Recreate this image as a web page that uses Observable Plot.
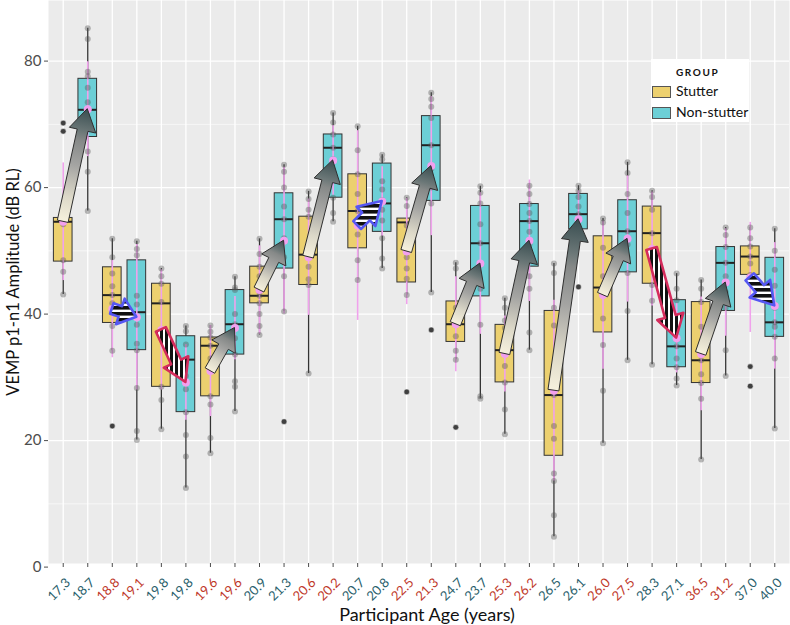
<!DOCTYPE html>
<html><head><meta charset="utf-8">
<script src="https://cdn.jsdelivr.net/npm/d3@7"></script>
<script src="https://cdn.jsdelivr.net/npm/@observablehq/plot@0.6"></script>
<style>
body{margin:0;background:#fff;font-family:Lato,"Open Sans",sans-serif;}
#wrap{position:relative;width:790px;height:625px;}
#legend{position:absolute;left:651px;top:59px;width:98px;height:63px;background:#fff;font-family:Lato,sans-serif;color:#111;}
#legend .t{position:absolute;left:25px;top:7px;font-size:10px;font-weight:700;letter-spacing:1.6px;}
#legend .sw{position:absolute;left:1px;width:17px;height:10px;border:1px solid #555;}
#legend .lb{position:absolute;left:25px;font-size:14px;line-height:14px;}
</style></head>
<body><div id="wrap"><div id="legend"></div></div>
<script>
const ages = ["17.3","18.7","18.8","19.1","19.8","19.8","19.6","19.6","20.9","21.3","20.6","20.2","20.7","20.8","22.5","21.3","24.7","23.7","25.3","26.2","26.5","26.1","26.0","27.5","28.3","27.1","36.5","31.2","37.0","40.0"];
const groupNames = ["Stutter","Non-stutter"];
const groupColors = ["#ecd06f","#6ccfd6"];
const labelColors = ["#2b5f6c","#c0392b"];
const q1 = [48.3,68.0, 38.6,34.3, 28.5,24.5, 27.0,33.6, 41.7,47.2, 44.6,58.4, 50.4,53.0, 45.0,57.9, 35.6,42.8, 29.2,47.5, 17.6,53.4, 37.1,46.6, 44.8,31.6, 29.1,40.5, 46.2,36.4];
const median = [54.6,72.3, 43.0,40.3, 41.7,32.8, 35.0,38.4, 42.9,55.0, 49.4,66.3, 56.3,57.5, 54.5,66.7, 38.4,51.2, 34.3,54.7, 27.2,55.8, 44.2,53.1, 52.8,34.9, 32.7,48.1, 49.1,38.7];
const q3 = [55.2,77.2, 47.4,48.5, 44.8,36.5, 36.3,43.8, 47.5,59.1, 55.4,68.4, 62.1,63.8, 55.1,71.3, 42.0,57.1, 38.3,57.4, 40.5,59.0, 52.3,58.0, 57.0,42.2, 41.9,50.6, 50.7,48.9];
const whiskerLow = [43.1,56.3, 34.2,20.1, 21.8,12.5, 18.0,24.6, 36.7,40.4, 30.6,54.6, 45.4,47.2, 43.0,43.4, 32.8,26.6, 21.0,34.3, 4.8,53.4, 19.6,32.7, 32.0,28.7, 17.0,30.2, 46.2,21.9];
const whiskerHigh = [55.2,85.2, 51.9,51.5, 47.2,38.1, 38.2,45.9, 51.9,63.6, 59.4,71.8, 69.7,65.2, 58.4,75.0, 48.1,60.2, 42.5,60.3, 48.0,60.3, 55.1,64.0, 59.5,46.4, 45.4,53.7, 53.7,53.5];
const means = [54.6,72.4, 40.8,39.5, 37.5,29.2, 31.0,37.8, 43.8,51.6, 49.0,64.3, 54.0,57.8, 49.9,63.4, 38.4,48.0, 33.7,51.6, 27.9,55.0, 43.0,51.9, 50.3,36.2, 33.7,45.0, 45.8,41.3];
const sds = [9.3,7.5, 7.7,11.5, 9.5,6.0, 7.2,5.0, 7.0,11.6, 9.2,5.5, 15.0,5.5, 8.4,11.0, 7.5,11.2, 6.0,9.6, 14.3,4.5, 11.7,10.0, 9.0,5.5, 9.0,8.5, 8.7,10.0];
const outliers = [[70.2,68.9],[],[22.3],[],[],[],[],[],[],[23.0],[],[],[],[],[27.7],[37.5],[22.1],[],[],[],[],[44.3],[],[],[],[],[],[],[31.7,28.6],[]];
const points = [
 [70.2,68.9,55.2,54.6,54.2,48.5,46.7,43.1],
 [85.2,83.5,78.3,77.6,75.8,73.5,72.4,65.7,62.5,56.3],
 [51.9,49.0,46.4,44.4,43.0,41.7,38.1,34.2,22.3],
 [51.5,50.3,49.3,42.9,41.5,38.3,35.3,34.3,28.3,21.5,20.1],
 [47.2,46.0,44.8,41.9,36.5,28.5,26.4,21.8],
 [38.1,37.3,35.2,32.8,30.2,28.1,24.5,20.9,17.5,12.5],
 [38.2,37.2,36.3,35.0,33.0,27.0,25.7,20.4,18.0],
 [45.9,44.2,43.8,40.0,38.4,36.2,33.6,29.4,28.5,24.6],
 [51.9,49.5,47.5,46.0,43.5,42.9,41.7,40.0,38.1,36.7],
 [63.6,62.5,60.0,57.0,55.0,52.0,49.0,46.0,40.4,23.0],
 [59.4,58.2,56.5,55.4,50.0,47.5,45.5,44.6,30.6],
 [71.8,70.3,68.4,66.3,64.5,62.0,58.4,56.0,54.6],
 [69.7,65.9,62.1,59.0,56.3,52.6,48.5,45.4],
 [65.2,64.5,61.0,59.7,58.0,56.5,54.8,52.0,48.8,47.2],
 [58.4,57.1,54.0,49.0,47.2,45.6,43.0,27.7],
 [75.0,74.0,72.8,71.0,66.7,63.0,60.0,57.5,43.4,37.5],
 [48.1,47.2,41.0,39.0,38.4,36.5,34.2,32.8,22.1],
 [60.2,59.2,57.5,54.2,51.2,48.0,44.0,38.3,27.0,26.6],
 [42.5,41.0,39.0,37.8,35.5,34.3,31.8,29.2,24.9,21.0],
 [60.3,59.0,57.4,56.0,54.7,53.0,51.0,46.0,44.0,37.1,34.3],
 [48.0,46.5,41.0,38.2,27.2,22.3,20.3,14.8,13.6,8.2,4.8],
 [60.3,59.5,58.5,57.0,55.8,55.0,54.0,53.4,44.3],
 [55.1,54.5,50.5,46.0,44.2,43.0,39.3,35.1,27.9,19.6],
 [64.0,62.3,59.0,56.0,53.1,51.0,49.0,46.5,40.5,32.7],
 [59.5,58.5,56.5,52.8,50.0,48.0,44.6,42.1,32.0],
 [46.4,44.0,42.2,39.5,36.0,34.9,33.0,31.6,29.8,28.7],
 [45.4,44.0,41.9,38.0,33.7,32.7,30.5,29.1,26.6,17.0],
 [53.7,52.5,50.6,48.1,46.0,43.5,41.0,34.3,30.2],
 [53.7,52.0,50.7,49.1,48.0,46.2,31.7,28.6],
 [53.5,50.0,47.0,44.5,41.0,38.7,38.0,36.4,33.0,21.9]
];
// arrow style per participant pair: "up" (grey), "down" (red hatched), "ns" (blue hatched)
const arrowKinds = ["up","ns","down","up","up","up","ns","up","up","up","up","up","down","up","ns"];
const yTicks = [0,20,40,60,80];
const yMinor = [10,30,50,70];

const boxes = ages.map((a, i) => ({
  i, age: a, group: groupNames[i % 2], fill: groupColors[i % 2],
  q1: q1[i], med: median[i], q3: q3[i], lo: whiskerLow[i], hi: whiskerHigh[i],
  mean: means[i], sd: sds[i], labelColor: labelColors[Math.floor(i / 2) % 2]
}));
const ptsFlat = points.flatMap((arr, i) => arr.map(v => ({i, v})));
const outFlat = outliers.flatMap((arr, i) => arr.map(v => ({i, v})));
const arrows = arrowKinds.map((k, p) => ({from: 2*p, to: 2*p+1, m0: means[2*p], m1: means[2*p+1], kind: k}));
const halfW = 0.38;

function arrowMark(index, scales) {
  const ns = "http://www.w3.org/2000/svg";
  const g = document.createElementNS(ns, "g");
  const defs = document.createElementNS(ns, "defs");
  defs.innerHTML =
    '<pattern id="hatchV" patternUnits="userSpaceOnUse" width="5" height="5"><rect width="5" height="5" fill="#fff"/><rect width="3" height="5" fill="#111"/></pattern>' +
    '<pattern id="hatchH" patternUnits="userSpaceOnUse" width="6" height="6"><rect width="6" height="6" fill="#fff"/><rect width="6" height="3.6" fill="#111"/></pattern>';
  g.appendChild(defs);
  arrows.forEach((a, k) => {
    const x0 = scales.x(a.from), y0 = scales.y(a.m0), x1 = scales.x(a.to), y1 = scales.y(a.m1);
    const L = Math.hypot(x1 - x0, y1 - y0);
    const ux = (x1 - x0) / L, uy = (y1 - y0) / L, nx = -uy, ny = ux;
    const hl = Math.min(22, L * 0.65), w = 5.5, h = 13.5;
    const bx = x0 + ux * (L - hl), by = y0 + uy * (L - hl);
    const pts = [
      [x0 + nx*w, y0 + ny*w], [bx + nx*w, by + ny*w], [bx + nx*h, by + ny*h], [x1, y1],
      [bx - nx*h, by - ny*h], [bx - nx*w, by - ny*w], [x0 - nx*w, y0 - ny*w]
    ];
    const poly = document.createElementNS(ns, "polygon");
    poly.setAttribute("points", pts.map(p => p.join(",")).join(" "));
    poly.setAttribute("stroke-linejoin", "round");
    if (a.kind === "up") {
      const lg = document.createElementNS(ns, "linearGradient");
      lg.setAttribute("id", "ag" + k);
      lg.setAttribute("gradientUnits", "userSpaceOnUse");
      lg.setAttribute("x1", x0); lg.setAttribute("y1", y0);
      lg.setAttribute("x2", x1); lg.setAttribute("y2", y1);
      [[0,"#f6f1dd"],[0.22,"#dcd8c8"],[0.5,"#a4a4a2"],[0.72,"#868988"],[0.8,"#6b7777"],[1,"#384d50"]].forEach(([o,c]) => {
        const s = document.createElementNS(ns, "stop");
        s.setAttribute("offset", o); s.setAttribute("stop-color", c); lg.appendChild(s);
      });
      defs.appendChild(lg);
      poly.setAttribute("fill", "url(#ag" + k + ")");
      poly.setAttribute("stroke", "#2e2e2e");
      poly.setAttribute("stroke-width", "1");
    } else if (a.kind === "down") {
      poly.setAttribute("fill", "url(#hatchV)");
      poly.setAttribute("stroke", "#d42c5c");
      poly.setAttribute("stroke-width", "2.6");
    } else {
      poly.setAttribute("fill", "url(#hatchH)");
      poly.setAttribute("stroke", "#5557f2");
      poly.setAttribute("stroke-width", "2.6");
    }
    g.appendChild(poly);
  });
  return g;
}

const plot = Plot.plot({
  width: 790, height: 625,
  marginLeft: 48, marginRight: 1, marginTop: 0, marginBottom: 62,
  style: {fontFamily: "Lato, 'Open Sans', sans-serif", color: "#4d4d4d", background: "transparent"},
  x: {type: "linear", domain: [-0.6, 29.6], axis: null},
  y: {type: "linear", domain: [0.57, 89.58], axis: null},
  marks: [
    Plot.frame({fill: "#ebebeb", stroke: null}),
    Plot.gridY(yMinor, {stroke: "#fff", strokeOpacity: 1, strokeWidth: 0.6}),
    Plot.gridY(yTicks.filter(t => t > 0), {stroke: "#fff", strokeOpacity: 1, strokeWidth: 1.3}),
    Plot.gridX(d3.range(ages.length), {stroke: "#fff", strokeOpacity: 1, strokeWidth: 1.3}),
    Plot.axisY(yTicks, {tickSize: 4, tickPadding: 3, fontSize: 15, label: null}),
    Plot.axisX(d3.range(ages.length), {tickSize: 4, tickFormat: () => "", label: null}),
    Plot.text(boxes, {x: "i", text: "age", frameAnchor: "bottom", lineAnchor: "middle", rotate: -45, textAnchor: "end", dx: 5, dy: 17, fontSize: 13, fill: "labelColor"}),
    Plot.text(["Participant Age (years)"], {frameAnchor: "bottom", lineAnchor: "bottom", textAnchor: "middle", dy: 57, dx: 8, fontSize: 18, fill: "#111"}),
    Plot.text(["VEMP p1-n1 Amplitude (dB RL)"], {frameAnchor: "left", textAnchor: "middle", lineAnchor: "middle", rotate: -90, dx: -35, fontSize: 16.5, fill: "#111"}),
    Plot.ruleX(boxes, {x: "i", y1: "lo", y2: "hi", stroke: "#333", strokeWidth: 1.3}),
    Plot.rect(boxes, {x1: d => d.i - halfW, x2: d => d.i + halfW, y1: "q1", y2: "q3", fill: "fill", stroke: "#333", strokeWidth: 1}),
    Plot.ruleY(boxes, {y: "med", x1: d => d.i - halfW, x2: d => d.i + halfW, stroke: "#222", strokeWidth: 2}),
    Plot.dot(outFlat, {x: "i", y: "v", r: 2.4, fill: "#333", stroke: null}),
    Plot.ruleX(boxes, {x: "i", y1: d => d.mean - d.sd, y2: d => d.mean + d.sd, stroke: "#f0a2ec", strokeWidth: 1.6}),
    Plot.dot(ptsFlat, {x: "i", y: "v", r: 3, fill: "#555", fillOpacity: 0.4, stroke: null}),
    Plot.dot(boxes, {x: "i", y: "mean", r: 4, fill: "#f2a0ee", stroke: null}),
    arrowMark
  ]
});
document.getElementById("wrap").prepend(plot);

const lg = document.getElementById("legend");
lg.innerHTML = '<div class="t">GROUP</div>' +
  groupNames.map((g, k) => `<div class="sw" style="top:${27 + k*21}px;background:${groupColors[k]}"></div><div class="lb" style="top:${25 + k*21}px">${g}</div>`).join("");
</script>
</body></html>
